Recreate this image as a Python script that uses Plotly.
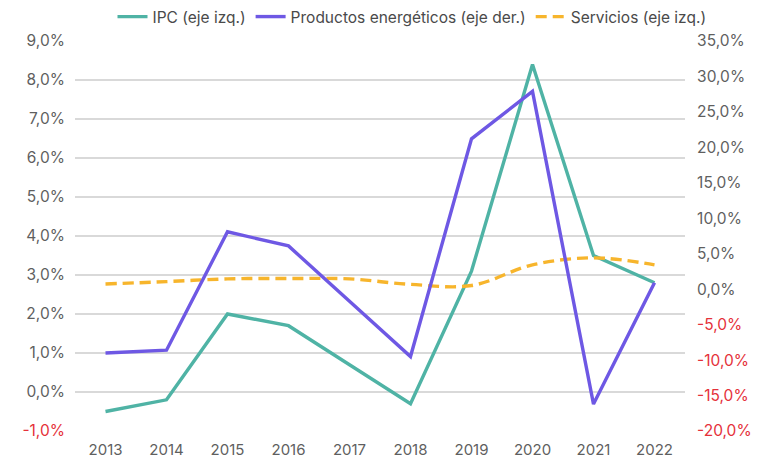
import plotly.graph_objects as go

years = ["2013", "2014", "2015", "2016", "2017", "2018", "2019", "2020", "2021", "2022"]
ipc = [-0.5, -0.2, 2.0, 1.7, 0.7, -0.3, 3.1, 8.4, 3.5, 2.8]
energeticos = [-9.0, -8.6, 8.1, 6.1, -1.7, -9.5, 21.2, 27.9, -16.2, 0.9]
servicios = [2.77, 2.83, 2.9, 2.91, 2.9, 2.76, 2.73, 3.26, 3.44, 3.26]

left_ticks = [-1, 0, 1, 2, 3, 4, 5, 6, 7, 8, 9]
right_ticks = [-20, -15, -10, -5, 0, 5, 10, 15, 20, 25, 30, 35]

GRAY = "#5f5f5f"
RED = "#e5313a"
FS = 15.5


def fmt(v):
    s = f"{v:.1f}".replace(".", ",") + "%"
    if v < 0:
        return f"<span style='color:{RED}'>{s}</span>"
    return s


fig = go.Figure()
fig.add_trace(go.Scatter(x=years, y=ipc, name="IPC (eje izq.)", mode="lines",
                         line=dict(color="#4fb3a5", width=3.4)))
fig.add_trace(go.Scatter(x=years, y=energeticos, name="Productos energéticos (eje der.)", mode="lines",
                         line=dict(color="#6e58e4", width=3.4), yaxis="y2"))
fig.add_trace(go.Scatter(x=years, y=servicios, name="Servicios (eje izq.)", mode="lines",
                         line=dict(color="#f7b52c", width=3.4, dash="11px,6px", shape="spline")))

fig.update_layout(
    width=762, height=459,
    margin=dict(l=75, r=77, t=41, b=28, autoexpand=False),
    paper_bgcolor="white", plot_bgcolor="white",
    font=dict(family="Inter, Roboto, sans-serif", size=FS, color=GRAY),
    showlegend=True,
    legend=dict(orientation="h", x=(412 - 75) / 610, xanchor="center",
                y=1 + 24 / 390, yanchor="middle",
                font=dict(size=FS, color="#4a4a4a"), itemwidth=30,
                bgcolor="rgba(0,0,0,0)"),
    xaxis=dict(type="category", range=[-0.5, 9.5], showgrid=False, showline=False, zeroline=False,
               ticks="outside", ticklen=5, tickcolor="rgba(0,0,0,0)", automargin=False,
               tickfont=dict(size=15, color=GRAY)),
    yaxis=dict(range=[-1, 9], tickvals=left_ticks, ticktext=[fmt(v) for v in left_ticks],
               showgrid=True, gridcolor="#d9d9d9", gridwidth=1.5, zeroline=False, automargin=False,
               showline=False, ticks="outside", ticklen=6, tickcolor="rgba(0,0,0,0)",
               tickfont=dict(size=FS, color=GRAY)),
    yaxis2=dict(range=[-20, 35], tickvals=right_ticks, ticktext=[fmt(v) for v in right_ticks],
                overlaying="y", side="right", showgrid=False, zeroline=False, showline=False,
                ticks="outside", ticklen=8, tickcolor="rgba(0,0,0,0)", automargin=False,
                tickfont=dict(size=FS, color=GRAY)),
)

fig.write_html("out.html", config={"displayModeBar": False},
               post_script="document.body.style.margin='0';")
